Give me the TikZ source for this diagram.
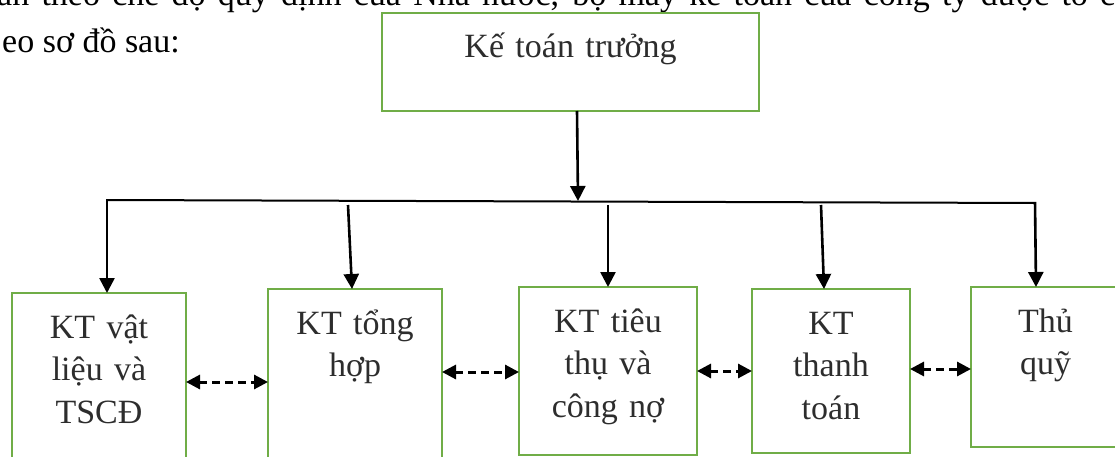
\documentclass[tikz,border=0pt]{standalone}
\usepackage{fontspec}
\setmainfont{Liberation Serif}
\usetikzlibrary{arrows.meta}
\definecolor{boxgreen}{RGB}{112,173,71}
\definecolor{boxtext}{RGB}{45,45,45}
\begin{document}
\begin{tikzpicture}[x=1pt,y=-1pt,
  box/.style={draw=boxgreen, line width=2.8pt, outer sep=0pt, inner sep=0pt, anchor=north west},
  boxlabel/.style={text=boxtext, font=\fontsize{34}{42.5}\selectfont, text width=300pt, align=center, inner sep=0pt, anchor=base},
  bodytext/.style={font=\fontsize{34}{42.5}\selectfont, inner sep=0pt, anchor=base west},
  feed/.style={line width=2.6pt, -{Triangle[length=15pt,width=15pt]}},
  bus/.style={line width=2pt},
  link/.style={line width=3pt, dash pattern=on 8pt off 5pt,
    {Triangle[length=14pt,width=14pt]}-{Triangle[length=14pt,width=14pt]}},
]
\useasboundingbox (0,0) rectangle (1115,457);
\clip (0,0) rectangle (1115,457);

% surrounding paragraph lines
\node[bodytext] (para1) at (-3,6) {\makebox[1118pt][s]{an theo chế độ quy định của Nhà nước, bộ máy kế toán của công ty được tổ c}};
\node[bodytext] (para2) at (2,53) {eo sơ đồ sau:};

% boxes
\node[box, minimum width=377pt, minimum height=98pt] (tb) at (382,13) {};
\node[box, minimum width=174pt, minimum height=200pt] (b1) at (12,293) {};
\node[box, minimum width=174pt, minimum height=200pt] (b2) at (268,289) {};
\node[box, minimum width=178pt, minimum height=168pt] (b3) at (519,287) {};
\node[box, minimum width=158pt, minimum height=164pt] (b4) at (752,289) {};
\node[box, minimum width=149pt, minimum height=160pt] (b5) at (971,287) {};

% box texts
\node[boxlabel] (tt) at ([yshift=-45pt]tb.north) {Kế toán trưởng};
\node[boxlabel] (t1) at ([yshift=-45pt]b1.north) {KT vật\\liệu và\\TSCĐ};
\node[boxlabel] (t2) at ([yshift=-45pt]b2.north) {KT tổng\\hợp};
\node[boxlabel] (t3) at ([yshift=-45pt]b3.north) {KT tiêu\\thụ và\\công nợ};
\node[boxlabel] (t4) at ([yshift=-45pt]b4.north) {KT\\thanh\\toán};
\node[boxlabel] (t5) at ([yshift=-45pt]b5.north) {Thủ\\quỹ};

% distribution bus
\coordinate (busL) at (107,200);
\coordinate (busR) at (1035,203);
\coordinate (hub) at (578,201);
\coordinate (s2) at (348,205);
\coordinate (s3) at (608,205);
\coordinate (s4) at (821,205);
\draw[bus] (busL) -- (busR);
\draw[feed] ([xshift=6.5pt]tb.south) -- (hub);
\draw[feed] ([yshift=1pt]busL) -- ([xshift=8pt]b1.north);
\draw[feed] (s2) -- ([xshift=-3pt]b2.north);
\draw[feed] (s3) -- (b3.north);
\draw[feed] (s4) -- ([xshift=-7pt]b4.north);
\draw[feed] ([yshift=1pt]busR) -- ([xshift=-9.5pt]b5.north);

% links between neighbours
\draw[link] ([yshift=-89pt]b1.north east) -- ([yshift=-93pt]b2.north west);
\draw[link] ([yshift=-83pt]b2.north east) -- ([yshift=-85pt]b3.north west);
\draw[link] ([yshift=-84pt]b3.north east) -- ([yshift=-82pt]b4.north west);
\draw[link] ([yshift=-80pt]b4.north east) -- ([yshift=-82pt]b5.north west);
\end{tikzpicture}
\end{document}
